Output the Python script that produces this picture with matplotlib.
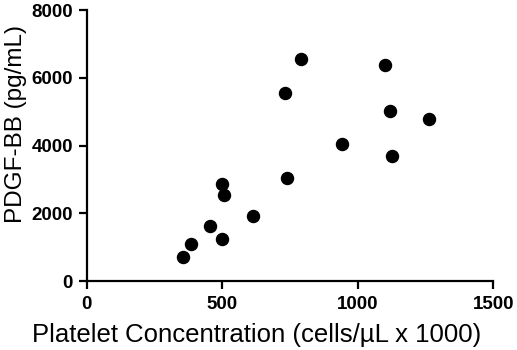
import matplotlib
matplotlib.use('Agg')
import matplotlib.pyplot as plt

# platelet concentration (cells/uL x 1000) vs PDGF-BB (pg/mL)
platelets = [354, 385, 456, 498, 500, 508, 613, 731, 740, 792, 941, 1102, 1118, 1125, 1262]
pdgf_bb = [718, 1083, 1634, 1230, 2854, 2529, 1919, 5551, 3051, 6545, 4035, 6368, 5020, 3681, 4783]

x_ticks = [0, 500, 1000, 1500]
y_ticks = [0, 2000, 4000, 6000, 8000]

plt.rcParams['font.family'] = ['Liberation Sans', 'DejaVu Sans']

fig = plt.figure(figsize=(5.17, 3.5), dpi=100)
ax = fig.add_axes([0.168, 0.197, 0.786, 0.774])

ax.scatter(platelets, pdgf_bb, s=75, color='black', zorder=3, clip_on=False)

ax.set_xlim(0, 1500)
ax.set_ylim(0, 8000)
ax.set_xticks(x_ticks)
ax.set_yticks(y_ticks)

for s in ['top', 'right']:
    ax.spines[s].set_visible(False)
for s in ['left', 'bottom']:
    ax.spines[s].set_linewidth(1.6)

ax.tick_params(direction='out', length=6, width=1.6, labelsize=13.5)
ax.tick_params(axis='x', pad=5)
ax.tick_params(axis='y', pad=4)
for lab in ax.get_xticklabels() + ax.get_yticklabels():
    lab.set_fontweight('bold')

ax.set_xlabel('Platelet Concentration (cells/µL x 1000)', fontsize=18.5)
ax.set_ylabel('PDGF-BB (pg/mL)', fontsize=17.5)
ax.xaxis.set_label_coords(0.419, -0.155)
ax.yaxis.set_label_coords(-0.148, 0.58)

fig.savefig('out.png', dpi=100)
